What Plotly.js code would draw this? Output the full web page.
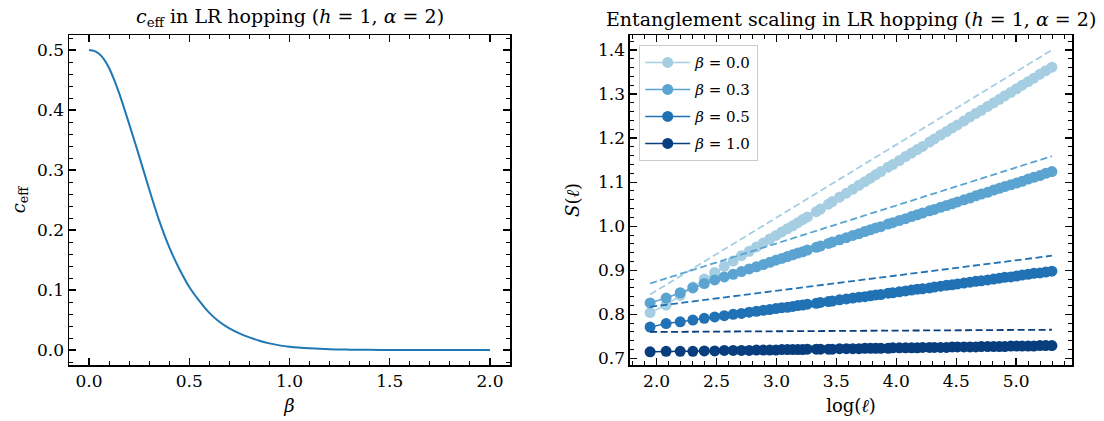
<!DOCTYPE html>
<html>
<head>
<meta charset="utf-8">
<script src="https://cdn.plot.ly/plotly-3.0.1.min.js"></script>
<style>html,body{margin:0;padding:0;background:#fff;}#chart{width:1104px;height:421px;}</style>
</head>
<body>
<div id="chart"></div>
<script>
// ---- left panel: effective central charge vs beta ----
const beta = [0,0.025,0.05,0.075,0.1,0.125,0.15,0.175,0.2,0.25,0.3,0.35,0.4,0.45,0.5,0.55,0.6,0.65,0.7,0.75,0.8,0.85,0.9,0.95,1.0,1.1,1.2,1.3,1.4,1.5,1.6,1.7,1.8,1.9,2.0];
const ceff = [0.500,0.4985,0.4938,0.4845,0.4700,0.4505,0.4280,0.4030,0.3768,0.3232,0.2680,0.2155,0.1713,0.1354,0.1050,0.0818,0.0619,0.0470,0.0359,0.0276,0.0210,0.0155,0.0110,0.0077,0.0055,0.0028,0.0011,0.0006,0.0003,0.0001,0,0,0,0,0];

// ---- right panel: entanglement entropy vs log(l) ----
const logL = [1.9459,2.0794,2.1972,2.3026,2.3979,2.4849,2.5649,2.6391,2.7081,2.7726,2.8332,2.8904,2.9444,2.9957,3.0445,3.0910,3.1355,3.1781,3.2189,3.2581,3.3322,3.3673,3.4340,3.4657,3.5264,3.5835,3.6376,3.6889,3.7377,3.7842,3.8286,3.8712,3.9318,3.9703,4.0254,4.0775,4.1271,4.1744,4.2195,4.2767,4.3175,4.3694,4.4188,4.4659,4.5109,4.5643,4.6151,4.6634,4.7095,4.7622,4.8122,4.8598,4.9053,4.9558,5.0039,5.0499,5.0999,5.1475,5.1985,5.2470,5.2983];

const S_b00 = [0.804,0.821,0.843,0.862,0.880,0.895,0.909,0.921,0.933,0.943,0.953,0.962,0.971,0.979,0.987,0.994,1.001,1.008,1.015,1.021,1.033,1.039,1.050,1.056,1.066,1.075,1.084,1.093,1.101,1.109,1.117,1.124,1.134,1.140,1.149,1.158,1.166,1.174,1.181,1.191,1.198,1.207,1.215,1.223,1.230,1.239,1.248,1.256,1.263,1.272,1.280,1.288,1.296,1.304,1.312,1.320,1.328,1.336,1.345,1.353,1.361];
const S_b03 = [0.826,0.837,0.849,0.860,0.870,0.878,0.885,0.891,0.897,0.903,0.908,0.913,0.918,0.923,0.927,0.931,0.935,0.939,0.942,0.946,0.952,0.955,0.961,0.964,0.969,0.974,0.979,0.983,0.988,0.992,0.996,0.999,1.005,1.008,1.013,1.017,1.022,1.026,1.030,1.035,1.038,1.043,1.047,1.051,1.055,1.060,1.064,1.069,1.073,1.077,1.082,1.086,1.090,1.094,1.098,1.102,1.107,1.111,1.115,1.120,1.124];
const S_b05 = [0.771,0.779,0.783,0.787,0.791,0.794,0.797,0.800,0.802,0.805,0.807,0.809,0.811,0.813,0.815,0.816,0.818,0.820,0.821,0.823,0.825,0.827,0.829,0.830,0.833,0.835,0.837,0.839,0.840,0.842,0.844,0.845,0.848,0.849,0.851,0.853,0.855,0.857,0.858,0.860,0.862,0.864,0.866,0.867,0.869,0.871,0.873,0.875,0.876,0.878,0.880,0.882,0.884,0.885,0.887,0.889,0.891,0.893,0.894,0.896,0.898];
const S_b10 = [0.715,0.716,0.716,0.716,0.717,0.717,0.718,0.718,0.718,0.718,0.719,0.719,0.719,0.719,0.720,0.720,0.720,0.720,0.720,0.721,0.721,0.721,0.721,0.721,0.722,0.722,0.722,0.722,0.723,0.723,0.723,0.723,0.723,0.724,0.724,0.724,0.724,0.724,0.725,0.725,0.725,0.725,0.725,0.726,0.726,0.726,0.726,0.726,0.727,0.727,0.727,0.727,0.727,0.728,0.728,0.728,0.728,0.728,0.729,0.729,0.729];

// CFT fit lines (end points)
const fitX = [1.9459, 5.2983];
const fit_b00 = [0.845, 1.400];
const fit_b03 = [0.870, 1.159];
const fit_b05 = [0.817, 0.933];
const fit_b10 = [0.760, 0.765];

const seriesNames = ['<i>β</i> = 0.0','<i>β</i> = 0.3','<i>β</i> = 0.5','<i>β</i> = 1.0'];
const seriesY = [S_b00, S_b03, S_b05, S_b10];
const fitY = [fit_b00, fit_b03, fit_b05, fit_b10];
const colors = ['#a6cee3','#5ba3d0','#2171b5','#083d7e'];

const FONT = 'DejaVu Serif, Liberation Serif, serif';

const traces = [{
  x: beta, y: ceff, type: 'scatter', mode: 'lines',
  line: {color: '#1f77b4', width: 2, shape: 'spline', smoothing: 0.8},
  xaxis: 'x', yaxis: 'y', showlegend: false, hoverinfo: 'skip'
}];

for (let i = 0; i < 4; i++) {
  traces.push({
    x: logL, y: seriesY[i], type: 'scatter', mode: 'lines+markers',
    name: seriesNames[i], legendgroup: 'g' + i,
    line: {color: colors[i], width: 1.5},
    marker: {color: colors[i], size: 11, line: {width: 0}},
    xaxis: 'x2', yaxis: 'y2'
  });
  traces.push({
    x: fitX, y: fitY[i], type: 'scatter', mode: 'lines',
    line: {color: colors[i], width: 1.8, dash: '7px,3.5px'},
    xaxis: 'x2', yaxis: 'y2', showlegend: false, legendgroup: 'g' + i
  });
}

const axCommon = {
  showgrid: false, zeroline: false, showline: true, linecolor: '#000', linewidth: 1.5,
  mirror: 'allticks', ticks: 'inside', ticklen: 7, tickwidth: 1.3, tickcolor: '#000',
  tickfont: {family: FONT, size: 17, color: '#000'}, tickformat: '.1f'
};

const layout = {
  width: 1104, height: 421,
  margin: {l: 69, r: 32, t: 35, b: 56},
  paper_bgcolor: '#fff', plot_bgcolor: '#fff',
  font: {family: FONT, size: 16, color: '#000'},
  xaxis: Object.assign({}, axCommon, {
    domain: [0, 0.4397], anchor: 'y', range: [-0.1, 2.1], tick0: 0, dtick: 0.5,
    minor: {dtick: 0.1, ticks: 'inside', ticklen: 4, tickwidth: 1, tickcolor: '#000', showgrid: false},
    title: {text: '<i>β</i>', font: {family: FONT, size: 18}, standoff: 9}
  }),
  yaxis: Object.assign({}, axCommon, {
    domain: [0, 1], anchor: 'x', range: [-0.025, 0.525], tick0: 0, dtick: 0.1,
    minor: {dtick: 0.02, ticks: 'inside', ticklen: 4, tickwidth: 1, tickcolor: '#000', showgrid: false},
    title: {text: '<i>c</i><sub>eff</sub>', font: {family: FONT, size: 18}, standoff: 7}
  }),
  xaxis2: Object.assign({}, axCommon, {
    domain: [0.5593, 1], anchor: 'y2', range: [1.778, 5.466], tick0: 0, dtick: 0.5,
    minor: {dtick: 0.1, ticks: 'inside', ticklen: 4, tickwidth: 1, tickcolor: '#000', showgrid: false},
    title: {text: 'log(<i>ℓ</i>)', font: {family: FONT, size: 18}, standoff: 9}
  }),
  yaxis2: Object.assign({}, axCommon, {
    domain: [0, 1], anchor: 'x2', range: [0.685, 1.434], tick0: 0, dtick: 0.1,
    minor: {dtick: 0.02, ticks: 'inside', ticklen: 4, tickwidth: 1, tickcolor: '#000', showgrid: false},
    title: {text: '<i>S</i>(<i>ℓ</i>)', font: {family: FONT, size: 18}, standoff: 13}
  }),
  legend: {
    x: 0.5683, y: 0.9697, xref: 'paper', yref: 'paper', xanchor: 'left', yanchor: 'top',
    bgcolor: 'rgba(255,255,255,0.8)', bordercolor: '#cccccc', borderwidth: 1.2,
    font: {family: FONT, size: 15, color: '#000'},
    traceorder: 'grouped', tracegroupgap: 4.5, itemwidth: 45
  },
  annotations: [
    {text: '<i>c</i><sub>eff</sub> in LR hopping (<i>h</i> = 1, <i>α</i> = 2)', xref: 'x domain', yref: 'y domain',
     x: 0.5, y: 1, xanchor: 'center', yanchor: 'bottom', yshift: 3, showarrow: false,
     font: {family: FONT, size: 19, color: '#000'}},
    {text: 'Entanglement scaling in LR hopping (<i>h</i> = 1, <i>α</i> = 2)', xref: 'x2 domain', yref: 'y2 domain',
     x: 0.5, y: 1, xanchor: 'center', yanchor: 'bottom', yshift: 3, showarrow: false,
     font: {family: FONT, size: 19, color: '#000'}}
  ],
  showlegend: true
};

Plotly.newPlot('chart', traces, layout, {displayModeBar: false, staticPlot: true});
</script>
</body>
</html>
